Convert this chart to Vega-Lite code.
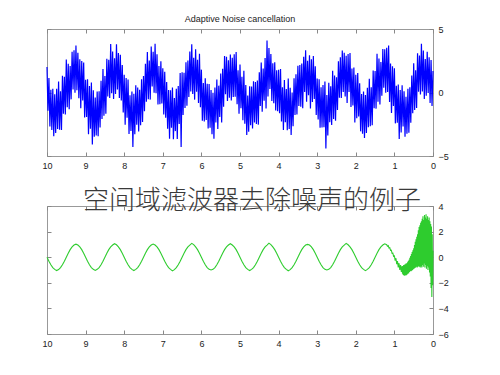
{
"$schema": "https://vega.github.io/schema/vega-lite/v6.json",
"autosize": {"type": "pad"},
"padding": {"left": 41, "top": 14, "right": 0, "bottom": 0},
"background": "white",
"bounds": "flush",
"spacing": 50,
"config": {
  "font": "Liberation Sans",
  "view": {"stroke": "#999", "strokeWidth": 1},
  "axis": {"grid": false, "domain": false, "labelFont": "Liberation Sans", "labelFontSize": 9, "labelColor": "#222", "tickColor": "#888", "tickSize": -4, "labelPadding": 9, "title": null, "labelFlush": false, "labelOverlap": false}
},
"vconcat": [
{
  "width": 386, "height": 127,
  "title": {"text": "Adaptive Noise cancellation", "fontSize": 9, "fontWeight": "normal", "color": "#222", "font": "Liberation Sans", "offset": -6, "baseline": "alphabetic"},
  "data": {"values": [
{"t":0,"y":1.7},{"t":0.025,"y":-1.07},{"t":0.05,"y":2.56},{"t":0.075,"y":-0.82},{"t":0.1,"y":2.78},{"t":0.125,"y":-0.04},{"t":0.15,"y":3.21},{"t":0.175,"y":-0.26},{"t":0.2,"y":2.63},{"t":0.225,"y":-0.52},
{"t":0.25,"y":3.3},{"t":0.275,"y":0.08},{"t":0.3,"y":3.83},{"t":0.325,"y":-0.16},{"t":0.35,"y":2.91},{"t":0.375,"y":0.06},{"t":0.4,"y":3.08},{"t":0.425,"y":-1.22},{"t":0.45,"y":1.76},{"t":0.475,"y":-1.37},
{"t":0.5,"y":2.3},{"t":0.525,"y":-1.63},{"t":0.55,"y":1.34},{"t":0.575,"y":-2.38},{"t":0.6,"y":0.42},{"t":0.625,"y":-3.16},{"t":0.65,"y":0.29},{"t":0.675,"y":-3.24},{"t":0.7,"y":-0.33},{"t":0.725,"y":-3.48},
{"t":0.75,"y":0.1},{"t":0.775,"y":-2.68},{"t":0.8,"y":0.57},{"t":0.825,"y":-3.14},{"t":0.85,"y":0.19},{"t":0.875,"y":-3.66},{"t":0.9,"y":0.62},{"t":0.925,"y":-2.38},{"t":0.95,"y":0.54},{"t":0.975,"y":-2.43},
{"t":1,"y":1.9},{"t":1.025,"y":-1.07},{"t":1.05,"y":2.06},{"t":1.075,"y":-1.62},{"t":1.1,"y":2.28},{"t":1.125,"y":-0.74},{"t":1.15,"y":3.7},{"t":1.175,"y":0.04},{"t":1.2,"y":3.53},{"t":1.225,"y":-0.02},
{"t":1.25,"y":3.4},{"t":1.275,"y":0.38},{"t":1.3,"y":3.43},{"t":1.325,"y":-0.26},{"t":1.35,"y":2.41},{"t":1.375,"y":-0.94},{"t":1.4,"y":2.68},{"t":1.425,"y":-0.72},{"t":1.45,"y":3.06},{"t":1.475,"y":-1.27},
{"t":1.5,"y":1.7},{"t":1.525,"y":-1.23},{"t":1.55,"y":1.74},{"t":1.575,"y":-2.58},{"t":1.6,"y":0.42},{"t":1.625,"y":-2.66},{"t":1.65,"y":1.09},{"t":1.675,"y":-2.74},{"t":1.7,"y":0.37},{"t":1.725,"y":-3.18},
{"t":1.75,"y":-0.2},{"t":1.775,"y":-3.58},{"t":1.8,"y":0.07},{"t":1.825,"y":-3.24},{"t":1.85,"y":-0.11},{"t":1.875,"y":-3.06},{"t":1.9,"y":0.72},{"t":1.925,"y":-1.88},{"t":1.95,"y":1.54},{"t":1.975,"y":-2.03},
{"t":2,"y":1.4},{"t":2.025,"y":-2.37},{"t":2.05,"y":1.96},{"t":2.075,"y":-1.02},{"t":2.1,"y":1.88},{"t":2.125,"y":-1.14},{"t":2.15,"y":3.11},{"t":2.175,"y":0.04},{"t":2.2,"y":3.03},{"t":2.225,"y":-0.82},
{"t":2.25,"y":2.9},{"t":2.275,"y":-0.32},{"t":2.3,"y":3.13},{"t":2.325,"y":0.04},{"t":2.35,"y":3.31},{"t":2.375,"y":-0.44},{"t":2.4,"y":2.78},{"t":2.425,"y":-0.42},{"t":2.45,"y":2.46},{"t":2.475,"y":-1.37},
{"t":2.5,"y":1.2},{"t":2.525,"y":-2.23},{"t":2.55,"y":1.34},{"t":2.575,"y":-2.08},{"t":2.6,"y":1.72},{"t":2.625,"y":-2.56},{"t":2.65,"y":0.49},{"t":2.675,"y":-2.34},{"t":2.7,"y":0.77},{"t":2.725,"y":-3.38},
{"t":2.75,"y":-0.2},{"t":2.775,"y":-4.4},{"t":2.8,"y":0.87},{"t":2.825,"y":-2.74},{"t":2.85,"y":0.59},{"t":2.875,"y":-2.76},{"t":2.9,"y":0.42},{"t":2.925,"y":-2.78},{"t":2.95,"y":1.04},{"t":2.975,"y":-2.13},
{"t":3,"y":1.1},{"t":3.025,"y":-1.77},{"t":3.05,"y":2.06},{"t":3.075,"y":-0.52},{"t":3.1,"y":2.88},{"t":3.125,"y":-0.74},{"t":3.15,"y":2.61},{"t":3.175,"y":-1.26},{"t":3.2,"y":2.93},{"t":3.225,"y":-0.22},
{"t":3.25,"y":2.5},{"t":3.275,"y":-0.72},{"t":3.3,"y":3.33},{"t":3.325,"y":0.04},{"t":3.35,"y":2.81},{"t":3.375,"y":-1.24},{"t":3.4,"y":2.28},{"t":3.425,"y":-1.12},{"t":3.45,"y":2.16},{"t":3.475,"y":-1.07},
{"t":3.5,"y":2.1},{"t":3.525,"y":-1.73},{"t":3.55,"y":1.44},{"t":3.575,"y":-1.78},{"t":3.6,"y":1.12},{"t":3.625,"y":-2.66},{"t":3.65,"y":-0.01},{"t":3.675,"y":-3.34},{"t":3.7,"y":0.37},{"t":3.725,"y":-2.88},
{"t":3.75,"y":1.1},{"t":3.775,"y":-2.98},{"t":3.8,"y":0.27},{"t":3.825,"y":-2.34},{"t":3.85,"y":0.99},{"t":3.875,"y":-2.96},{"t":3.9,"y":0.42},{"t":3.925,"y":-2.28},{"t":3.95,"y":1.84},{"t":3.975,"y":-1.63},
{"t":4,"y":1.8},{"t":4.025,"y":-1.47},{"t":4.05,"y":1.76},{"t":4.075,"y":-1.42},{"t":4.1,"y":2.38},{"t":4.125,"y":-0.84},{"t":4.15,"y":2.31},{"t":4.175,"y":-0.66},{"t":4.2,"y":3.03},{"t":4.225,"y":0.28},
{"t":4.25,"y":3.5},{"t":4.275,"y":-0.32},{"t":4.3,"y":4.1},{"t":4.325,"y":-1.26},{"t":4.35,"y":2.71},{"t":4.375,"y":-0.64},{"t":4.4,"y":1.88},{"t":4.425,"y":-1.52},{"t":4.45,"y":2.36},{"t":4.475,"y":-1.07},
{"t":4.5,"y":1.6},{"t":4.525,"y":-2.53},{"t":4.55,"y":0.94},{"t":4.575,"y":-2.48},{"t":4.6,"y":0.82},{"t":4.625,"y":-2.36},{"t":4.65,"y":0.89},{"t":4.675,"y":-2.84},{"t":4.7,"y":0.47},{"t":4.725,"y":-2.58},
{"t":4.75,"y":0.5},{"t":4.775,"y":-3.08},{"t":4.8,"y":-0.23},{"t":4.825,"y":-3.34},{"t":4.85,"y":0.59},{"t":4.875,"y":-2.46},{"t":4.9,"y":1.72},{"t":4.925,"y":-2.18},{"t":4.95,"y":1.24},{"t":4.975,"y":-1.23},
{"t":5,"y":2.2},{"t":5.025,"y":-1.67},{"t":5.05,"y":1.76},{"t":5.075,"y":-0.92},{"t":5.1,"y":3.18},{"t":5.125,"y":-0.34},{"t":5.15,"y":3.01},{"t":5.175,"y":-0.36},{"t":5.2,"y":2.73},{"t":5.225,"y":-0.62},
{"t":5.25,"y":3.0},{"t":5.275,"y":-0.42},{"t":5.3,"y":2.53},{"t":5.325,"y":-0.66},{"t":5.35,"y":2.81},{"t":5.375,"y":-0.14},{"t":5.4,"y":2.88},{"t":5.425,"y":-1.12},{"t":5.45,"y":1.86},{"t":5.475,"y":-2.37},
{"t":5.5,"y":1.5},{"t":5.525,"y":-1.93},{"t":5.55,"y":0.54},{"t":5.575,"y":-2.88},{"t":5.6,"y":1.02},{"t":5.625,"y":-2.36},{"t":5.65,"y":0.39},{"t":5.675,"y":-3.64},{"t":5.7,"y":-0.03},{"t":5.725,"y":-3.28},
{"t":5.75,"y":0.2},{"t":5.775,"y":-2.78},{"t":5.8,"y":0.67},{"t":5.825,"y":-2.84},{"t":5.85,"y":0.69},{"t":5.875,"y":-2.16},{"t":5.9,"y":1.12},{"t":5.925,"y":-2.28},{"t":5.95,"y":0.74},{"t":5.975,"y":-2.23},
{"t":6,"y":1.8},{"t":6.025,"y":-1.17},{"t":6.05,"y":3.06},{"t":6.075,"y":-0.82},{"t":6.1,"y":2.58},{"t":6.125,"y":0.06},{"t":6.15,"y":3.41},{"t":6.175,"y":-0.56},{"t":6.2,"y":2.73},{"t":6.225,"y":-0.12},
{"t":6.25,"y":3.8},{"t":6.275,"y":0.08},{"t":6.3,"y":3.23},{"t":6.325,"y":-0.36},{"t":6.35,"y":2.51},{"t":6.375,"y":-1.04},{"t":6.4,"y":2.38},{"t":6.425,"y":-1.22},{"t":6.45,"y":1.56},{"t":6.475,"y":-1.77},
{"t":6.5,"y":1.6},{"t":6.525,"y":-4.3},{"t":6.55,"y":1.54},{"t":6.575,"y":-2.48},{"t":6.6,"y":0.52},{"t":6.625,"y":-3.66},{"t":6.65,"y":0.29},{"t":6.675,"y":-3.04},{"t":6.7,"y":-0.43},{"t":6.725,"y":-3.68},
{"t":6.75,"y":0.4},{"t":6.775,"y":-2.78},{"t":6.8,"y":0.17},{"t":6.825,"y":-3.64},{"t":6.85,"y":0.19},{"t":6.875,"y":-2.86},{"t":6.9,"y":0.82},{"t":6.925,"y":-1.98},{"t":6.95,"y":1.64},{"t":6.975,"y":-1.73},
{"t":7,"y":1.9},{"t":7.025,"y":-0.87},{"t":7.05,"y":2.46},{"t":7.075,"y":-0.92},{"t":7.1,"y":2.08},{"t":7.125,"y":-0.94},{"t":7.15,"y":3.01},{"t":7.175,"y":-0.06},{"t":7.2,"y":3.83},{"t":7.225,"y":-0.02},
{"t":7.25,"y":3.2},{"t":7.275,"y":0.48},{"t":7.3,"y":3.63},{"t":7.325,"y":-0.56},{"t":7.35,"y":2.51},{"t":7.375,"y":-0.54},{"t":7.4,"y":3.18},{"t":7.425,"y":-0.72},{"t":7.45,"y":2.26},{"t":7.475,"y":-1.47},
{"t":7.5,"y":1.3},{"t":7.525,"y":-2.33},{"t":7.55,"y":1.04},{"t":7.575,"y":-2.58},{"t":7.6,"y":0.22},{"t":7.625,"y":-3.06},{"t":7.65,"y":0.39},{"t":7.675,"y":-2.54},{"t":7.7,"y":0.57},{"t":7.725,"y":-3.28},
{"t":7.75,"y":-0.1},{"t":7.775,"y":-4.3},{"t":7.8,"y":0.07},{"t":7.825,"y":-3.04},{"t":7.85,"y":-0.21},{"t":7.875,"y":-3.26},{"t":7.9,"y":1.02},{"t":7.925,"y":-1.98},{"t":7.95,"y":1.14},{"t":7.975,"y":-2.53},
{"t":8,"y":1.4},{"t":8.025,"y":-1.57},{"t":8.05,"y":2.16},{"t":8.075,"y":-0.62},{"t":8.1,"y":2.98},{"t":8.125,"y":-0.44},{"t":8.15,"y":3.11},{"t":8.175,"y":0.24},{"t":8.2,"y":3.8},{"t":8.225,"y":-0.12},
{"t":8.25,"y":2.7},{"t":8.275,"y":-0.52},{"t":8.3,"y":3.23},{"t":8.325,"y":-0.06},{"t":8.35,"y":3.81},{"t":8.375,"y":-0.44},{"t":8.4,"y":2.58},{"t":8.425,"y":-0.32},{"t":8.45,"y":2.66},{"t":8.475,"y":-1.67},
{"t":8.5,"y":1.3},{"t":8.525,"y":-1.83},{"t":8.55,"y":1.84},{"t":8.575,"y":-2.08},{"t":8.6,"y":0.92},{"t":8.625,"y":-2.76},{"t":8.65,"y":0.09},{"t":8.675,"y":-3.44},{"t":8.7,"y":0.07},{"t":8.725,"y":-3.38},
{"t":8.75,"y":-0.4},{"t":8.775,"y":-3.48},{"t":8.8,"y":0.17},{"t":8.825,"y":-4.1},{"t":8.85,"y":0.79},{"t":8.875,"y":-2.86},{"t":8.9,"y":0.52},{"t":8.925,"y":-3.28},{"t":8.95,"y":1.04},{"t":8.975,"y":-1.93},
{"t":9,"y":1.0},{"t":9.025,"y":-1.97},{"t":9.05,"y":2.36},{"t":9.075,"y":-0.62},{"t":9.1,"y":2.48},{"t":9.125,"y":-1.24},{"t":9.15,"y":2.61},{"t":9.175,"y":-0.46},{"t":9.2,"y":3.13},{"t":9.225,"y":0.18},
{"t":9.25,"y":3.7},{"t":9.275,"y":-0.02},{"t":9.3,"y":3.33},{"t":9.325,"y":0.24},{"t":9.35,"y":3.21},{"t":9.375,"y":-0.54},{"t":9.4,"y":2.08},{"t":9.425,"y":-1.32},{"t":9.45,"y":2.26},{"t":9.475,"y":-1.17},
{"t":9.5,"y":2.6},{"t":9.525,"y":-1.73},{"t":9.55,"y":1.24},{"t":9.575,"y":-1.68},{"t":9.6,"y":1.32},{"t":9.625,"y":-2.96},{"t":9.65,"y":0.09},{"t":9.675,"y":-2.94},{"t":9.7,"y":0.87},{"t":9.725,"y":-2.88},
{"t":9.75,"y":0.3},{"t":9.775,"y":-3.18},{"t":9.8,"y":-0.13},{"t":9.825,"y":-3.44},{"t":9.85,"y":0.29},{"t":9.875,"y":-2.96},{"t":9.9,"y":0.22},{"t":9.925,"y":-2.68},{"t":9.95,"y":1.14},{"t":9.975,"y":-1.43},
{"t":10,"y":2.0}
  ]},
  "layer": [
    {"mark": {"type": "line", "color": "#0000ff", "strokeWidth": 1.2},
     "encoding": {
       "x": {"field": "t", "type": "quantitative", "scale": {"domain": [0, 10], "reverse": true, "nice": false}, "axis": {"orient": "bottom", "values": [0,1,2,3,4,5,6,7,8,9,10]}},
       "y": {"field": "y", "type": "quantitative", "scale": {"domain": [-5, 5], "nice": false}, "axis": {"orient": "right", "values": [-5,0,5]}}
     }},
    {"mark": {"type": "point", "opacity": 0, "size": 0},
     "encoding": {
       "x": {"field": "t", "type": "quantitative", "scale": {"domain": [0, 10], "reverse": true, "nice": false}, "axis": {"orient": "top", "values": [0,1,2,3,4,5,6,7,8,9,10], "labels": false}},
       "y": {"field": "y", "type": "quantitative", "scale": {"domain": [-5, 5], "nice": false}, "axis": {"orient": "left", "values": [-5,0,5], "labels": false}}
     }}
  ],
  "resolve": {"axis": {"x": "independent", "y": "independent"}}
},
{
  "width": 386, "height": 128,
  "title": {"text": "空间域滤波器去除噪声的例子", "fontSize": 26, "fontWeight": 300, "color": "#3a3a3a", "font": "Noto Sans CJK SC", "offset": -33, "baseline": "alphabetic", "dx": 12},
  "data": {"values": [
{"t":0,"y":0.5},{"t":0.01,"y":-2.2},{"t":0.02,"y":1.8},{"t":0.03,"y":-3.1},{"t":0.04,"y":2.4},{"t":0.05,"y":-2.4},{"t":0.06,"y":2.6},{"t":0.07,"y":-1.5},{"t":0.08,"y":2.8},{"t":0.09,"y":-1.2},
{"t":0.1,"y":3.1},{"t":0.11,"y":-0.8},{"t":0.12,"y":2.9},{"t":0.13,"y":-1.0},{"t":0.14,"y":3.2},{"t":0.15,"y":-0.7},{"t":0.16,"y":3.0},{"t":0.17,"y":-0.9},{"t":0.18,"y":3.35},{"t":0.19,"y":-0.6},
{"t":0.2,"y":3.1},{"t":0.21,"y":-0.8},{"t":0.22,"y":3.3},{"t":0.23,"y":-0.5},{"t":0.24,"y":2.9},{"t":0.25,"y":-0.75},{"t":0.26,"y":3.2},{"t":0.27,"y":-0.6},{"t":0.28,"y":3.0},{"t":0.29,"y":-0.8},
{"t":0.3,"y":2.8},{"t":0.31,"y":-0.7},{"t":0.32,"y":2.7},{"t":0.33,"y":-0.8},{"t":0.34,"y":2.5},{"t":0.35,"y":-0.75},{"t":0.36,"y":2.35},{"t":0.37,"y":-0.7},{"t":0.38,"y":2.1},{"t":0.39,"y":-0.75},
{"t":0.4,"y":1.8},{"t":0.41,"y":-0.8},{"t":0.42,"y":1.6},{"t":0.43,"y":-0.75},{"t":0.44,"y":1.4},{"t":0.45,"y":-0.8},{"t":0.46,"y":1.2},{"t":0.47,"y":-0.85},{"t":0.48,"y":0.95},{"t":0.49,"y":-0.9},
{"t":0.5,"y":0.7},{"t":0.51,"y":-0.95},{"t":0.52,"y":0.55},{"t":0.53,"y":-1.0},{"t":0.54,"y":0.4},{"t":0.55,"y":-1.05},{"t":0.56,"y":0.25},{"t":0.57,"y":-1.1},{"t":0.58,"y":0.1},{"t":0.59,"y":-1.1},
{"t":0.6,"y":-0.05},{"t":0.61,"y":-1.15},{"t":0.62,"y":-0.2},{"t":0.63,"y":-1.25},{"t":0.64,"y":-0.3},{"t":0.65,"y":-1.3},{"t":0.66,"y":-0.4},{"t":0.67,"y":-1.35},{"t":0.68,"y":-0.48},{"t":0.69,"y":-1.4},
{"t":0.7,"y":-0.5},{"t":0.71,"y":-1.4},{"t":0.72,"y":-0.55},{"t":0.73,"y":-1.45},{"t":0.74,"y":-0.6},{"t":0.75,"y":-1.42},{"t":0.76,"y":-0.62},{"t":0.77,"y":-1.38},{"t":0.78,"y":-0.68},{"t":0.79,"y":-1.3},
{"t":0.8,"y":-0.7},{"t":0.82,"y":-1.15},{"t":0.84,"y":-0.62},{"t":0.86,"y":-1.0},{"t":0.88,"y":-0.47},{"t":0.9,"y":-0.8},{"t":0.92,"y":-0.3},{"t":0.94,"y":-0.55},{"t":0.96,"y":-0.08},{"t":0.98,"y":-0.27},
{"t":1,"y":0.1},{"t":1.02,"y":0.06},{"t":1.04,"y":0.32},{"t":1.06,"y":0.3},{"t":1.08,"y":0.55},{"t":1.1,"y":0.53},{"t":1.12,"y":0.74},{"t":1.14,"y":0.72},{"t":1.16,"y":0.9},{"t":1.18,"y":0.86},
{"t":1.2,"y":0.98},{"t":1.25,"y":1.05},{"t":1.3,"y":0.95},{"t":1.35,"y":0.81},{"t":1.4,"y":0.59},{"t":1.45,"y":0.31},{"t":1.5,"y":0},{"t":1.55,"y":-0.31},{"t":1.6,"y":-0.59},{"t":1.65,"y":-0.81},
{"t":1.7,"y":-0.95},{"t":1.75,"y":-1.05},{"t":1.8,"y":-0.95},{"t":1.85,"y":-0.81},{"t":1.9,"y":-0.59},{"t":1.95,"y":-0.31},
{"t":2,"y":0},{"t":2.05,"y":0.31},{"t":2.1,"y":0.59},{"t":2.15,"y":0.81},{"t":2.2,"y":0.97},{"t":2.25,"y":1.08},{"t":2.3,"y":0.95},{"t":2.35,"y":0.81},{"t":2.4,"y":0.59},{"t":2.45,"y":0.31},
{"t":2.5,"y":0},{"t":2.55,"y":-0.31},{"t":2.6,"y":-0.59},{"t":2.65,"y":-0.81},{"t":2.7,"y":-0.95},{"t":2.75,"y":-1},{"t":2.8,"y":-0.95},{"t":2.85,"y":-0.81},{"t":2.9,"y":-0.59},{"t":2.95,"y":-0.31},
{"t":3,"y":0},{"t":3.05,"y":0.31},{"t":3.1,"y":0.59},{"t":3.15,"y":0.81},{"t":3.2,"y":0.95},{"t":3.25,"y":1},{"t":3.3,"y":0.95},{"t":3.35,"y":0.81},{"t":3.4,"y":0.59},{"t":3.45,"y":0.31},
{"t":3.5,"y":0},{"t":3.55,"y":-0.31},{"t":3.6,"y":-0.59},{"t":3.65,"y":-0.81},{"t":3.7,"y":-0.97},{"t":3.75,"y":-1.06},{"t":3.8,"y":-0.95},{"t":3.85,"y":-0.81},{"t":3.9,"y":-0.59},{"t":3.95,"y":-0.31},
{"t":4,"y":0},{"t":4.05,"y":0.31},{"t":4.1,"y":0.59},{"t":4.15,"y":0.81},{"t":4.2,"y":0.98},{"t":4.25,"y":1.1},{"t":4.3,"y":0.95},{"t":4.35,"y":0.81},{"t":4.4,"y":0.59},{"t":4.45,"y":0.31},
{"t":4.5,"y":0},{"t":4.55,"y":-0.31},{"t":4.6,"y":-0.59},{"t":4.65,"y":-0.81},{"t":4.7,"y":-0.95},{"t":4.75,"y":-1.04},{"t":4.8,"y":-0.95},{"t":4.85,"y":-0.81},{"t":4.9,"y":-0.59},{"t":4.95,"y":-0.31},
{"t":5,"y":0},{"t":5.05,"y":0.31},{"t":5.1,"y":0.59},{"t":5.15,"y":0.81},{"t":5.2,"y":0.95},{"t":5.25,"y":1.05},{"t":5.3,"y":0.95},{"t":5.35,"y":0.81},{"t":5.4,"y":0.59},{"t":5.45,"y":0.31},
{"t":5.5,"y":0},{"t":5.55,"y":-0.31},{"t":5.6,"y":-0.59},{"t":5.65,"y":-0.81},{"t":5.7,"y":-0.95},{"t":5.75,"y":-1},{"t":5.8,"y":-0.95},{"t":5.85,"y":-0.81},{"t":5.9,"y":-0.59},{"t":5.95,"y":-0.31},
{"t":6,"y":0},{"t":6.05,"y":0.31},{"t":6.1,"y":0.59},{"t":6.15,"y":0.81},{"t":6.2,"y":0.98},{"t":6.25,"y":1.08},{"t":6.3,"y":0.95},{"t":6.35,"y":0.81},{"t":6.4,"y":0.59},{"t":6.45,"y":0.31},
{"t":6.5,"y":0},{"t":6.55,"y":-0.31},{"t":6.6,"y":-0.59},{"t":6.65,"y":-0.81},{"t":6.7,"y":-0.97},{"t":6.75,"y":-1.07},{"t":6.8,"y":-0.95},{"t":6.85,"y":-0.81},{"t":6.9,"y":-0.59},{"t":6.95,"y":-0.31},
{"t":7,"y":0},{"t":7.05,"y":0.31},{"t":7.1,"y":0.59},{"t":7.15,"y":0.81},{"t":7.2,"y":0.95},{"t":7.25,"y":1.03},{"t":7.3,"y":0.95},{"t":7.35,"y":0.81},{"t":7.4,"y":0.59},{"t":7.45,"y":0.31},
{"t":7.5,"y":0},{"t":7.55,"y":-0.31},{"t":7.6,"y":-0.59},{"t":7.65,"y":-0.81},{"t":7.7,"y":-0.95},{"t":7.75,"y":-1.04},{"t":7.8,"y":-0.95},{"t":7.85,"y":-0.81},{"t":7.9,"y":-0.59},{"t":7.95,"y":-0.31},
{"t":8,"y":0},{"t":8.05,"y":0.31},{"t":8.1,"y":0.59},{"t":8.15,"y":0.81},{"t":8.2,"y":0.97},{"t":8.25,"y":1.05},{"t":8.3,"y":0.95},{"t":8.35,"y":0.81},{"t":8.4,"y":0.59},{"t":8.45,"y":0.31},
{"t":8.5,"y":0},{"t":8.55,"y":-0.31},{"t":8.6,"y":-0.59},{"t":8.65,"y":-0.81},{"t":8.7,"y":-0.95},{"t":8.75,"y":-1.03},{"t":8.8,"y":-0.95},{"t":8.85,"y":-0.81},{"t":8.9,"y":-0.59},{"t":8.95,"y":-0.31},
{"t":9,"y":0},{"t":9.05,"y":0.31},{"t":9.1,"y":0.59},{"t":9.15,"y":0.81},{"t":9.2,"y":0.95},{"t":9.25,"y":1.02},{"t":9.3,"y":0.95},{"t":9.35,"y":0.81},{"t":9.4,"y":0.59},{"t":9.45,"y":0.31},
{"t":9.5,"y":0},{"t":9.55,"y":-0.31},{"t":9.6,"y":-0.59},{"t":9.65,"y":-0.81},{"t":9.7,"y":-0.97},{"t":9.75,"y":-1.04},{"t":9.8,"y":-0.95},{"t":9.85,"y":-0.81},{"t":9.9,"y":-0.59},{"t":9.95,"y":-0.31},
{"t":10,"y":0}
  ]},
  "layer": [
    {"mark": {"type": "line", "color": "#2ecc2e", "strokeWidth": 1.1},
     "encoding": {
       "x": {"field": "t", "type": "quantitative", "scale": {"domain": [0, 10], "reverse": true, "nice": false}, "axis": {"orient": "bottom", "values": [0,1,2,3,4,5,6,7,8,9,10]}},
       "y": {"field": "y", "type": "quantitative", "scale": {"domain": [-6, 4], "nice": false}, "axis": {"orient": "right", "values": [-6,-4,-2,0,2,4]}}
     }},
    {"mark": {"type": "point", "opacity": 0, "size": 0},
     "encoding": {
       "x": {"field": "t", "type": "quantitative", "scale": {"domain": [0, 10], "reverse": true, "nice": false}, "axis": {"orient": "top", "values": [0,1,2,3,4,5,6,7,8,9,10], "labels": false}},
       "y": {"field": "y", "type": "quantitative", "scale": {"domain": [-6, 4], "nice": false}, "axis": {"orient": "left", "values": [-6,-4,-2,0,2,4], "labels": false}}
     }}
  ],
  "resolve": {"axis": {"x": "independent", "y": "independent"}}
}
]
}
